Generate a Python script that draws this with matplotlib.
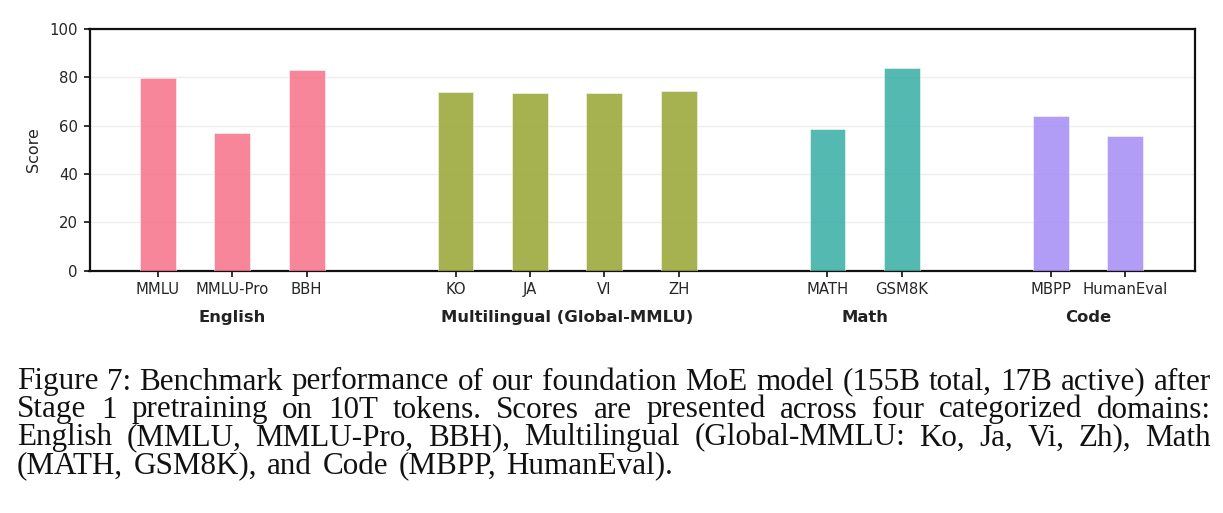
import matplotlib
matplotlib.use("Agg")
import matplotlib.pyplot as plt
import seaborn as sns

plt.rcParams["font.family"] = ["DejaVu Sans"]

# scores
benchmarks = ["MMLU", "MMLU-Pro", "BBH", "KO", "JA", "VI", "ZH",
              "MATH", "GSM8K", "MBPP", "HumanEval"]
scores = [79.9, 56.8, 83.2, 74.1, 73.5, 73.6, 74.4, 58.7, 83.9, 63.8, 55.8]
groups = ["English", "Multilingual (Global-MMLU)", "Math", "Code"]
group_sizes = [3, 4, 2, 2]

caption_lines = [
    "Figure 7: Benchmark performance of our foundation MoE model (155B total, 17B active) after",
    "Stage 1 pretraining on 10T tokens. Scores are presented across four categorized domains:",
    "English (MMLU, MMLU-Pro, BBH), Multilingual (Global-MMLU: Ko, Ja, Vi, Zh), Math",
    "(MATH, GSM8K), and Code (MBPP, HumanEval).",
]

W, H = 1223, 513
fig = plt.figure(figsize=(W / 100, H / 100), dpi=100)
ax = fig.add_axes([89.5 / W, 1 - 270.7 / H, (1195 - 89.5) / W, (270.7 - 29) / H])

palette = sns.color_palette("husl", len(groups))

# x positions: one empty slot between groups
xpos, colors, centers = [], [], []
x = 0
for gi, n in enumerate(group_sizes):
    start = x
    for k in range(n):
        xpos.append(x)
        colors.append(palette[gi])
        x += 1
    centers.append((start + x - 1) / 2)
    x += 1

ax.bar(xpos, scores, width=0.48, color=colors, alpha=0.85, zorder=3,
       edgecolor="white", linewidth=0.4)

ax.set_xlim(-0.92, 13.94)
ax.set_ylim(0, 100)
ax.set_yticks(range(0, 101, 20))
ax.set_xticks(xpos)
ax.set_xticklabels(benchmarks, fontsize=10.7, color="#262626")
ax.tick_params(axis="y", labelsize=10.7, labelcolor="#262626")
ax.tick_params(length=4.3, width=1.3, color="#222222", pad=4)
ax.set_ylabel("Score", fontsize=11.5, color="#262626", labelpad=6)
ax.yaxis.grid(True, color="#eeeeee", linewidth=1, zorder=0)
for s in ax.spines.values():
    s.set_linewidth(1.6)
    s.set_color("#111111")

for c, g in zip(centers, groups):
    ax.text(c, -19.5, g, ha="center", va="center", fontsize=11.8,
            fontweight="bold", color="#222222", transform=ax.transData)

# caption, justified like the paper text
renderer = fig.canvas.get_renderer()
cap_font = "Liberation Serif"
cap_size = 22.4
left, right = 17, 1211
baselines = [389.5, 417.5, 445.5, 473.5]

for i, line in enumerate(caption_lines):
    words = line.split(" ")
    texts = [fig.text(0, 1 - baselines[i] / H, w, fontsize=cap_size,
                      family=cap_font, va="baseline", color="#111111")
             for w in words]
    widths = [t.get_window_extent(renderer).width for t in texts]
    if i < len(caption_lines) - 1:
        gap = (right - left - sum(widths)) / (len(words) - 1)
    else:
        gap = 0.33 * cap_size * 100 / 72
    xx = left
    for t, w in zip(texts, widths):
        t.set_x(xx / W)
        xx += w + gap

fig.savefig("out.png", dpi=100)
